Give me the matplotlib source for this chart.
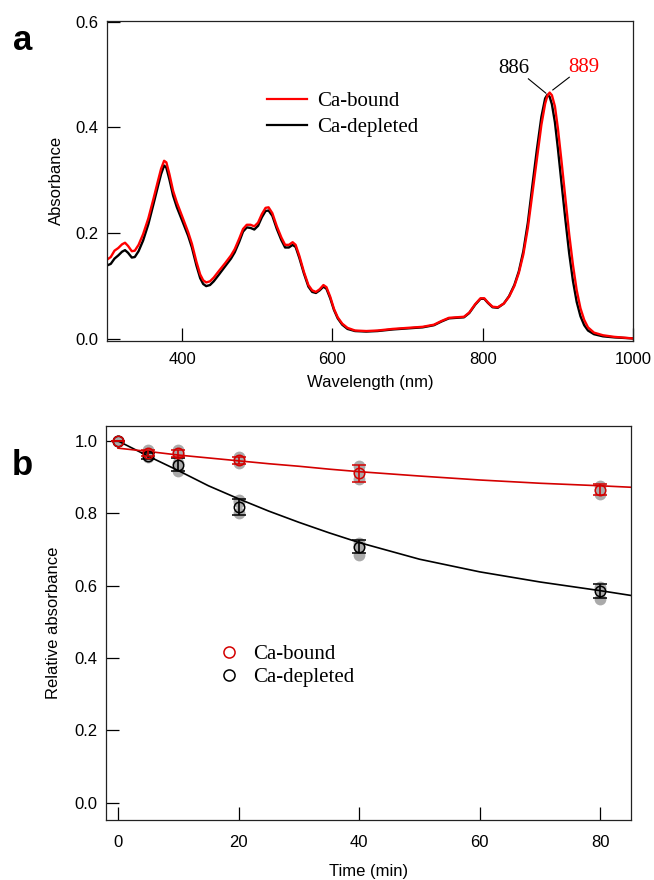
import matplotlib
matplotlib.use("Agg")
import matplotlib.pyplot as plt
from matplotlib.lines import Line2D

# ---- panel a: absorption spectra ----
wavelength = [300, 305, 310, 315, 320, 324, 328, 333, 337, 342, 348, 355, 362, 368, 372,
              376, 379, 383, 388, 393, 400, 408, 413, 419, 424, 428, 432, 437, 442, 448,
              457, 465, 470, 476, 481, 486, 491, 496, 501, 506, 511, 515, 520, 526, 532,
              537, 542, 547, 551, 556, 562, 568, 573, 578, 583, 588, 592, 597, 602, 607,
              613, 620, 630, 645, 660, 680, 700, 720, 735, 745, 755, 765, 775, 782, 790,
              797, 802, 807, 813, 820, 828, 835, 842, 848, 854, 860, 866, 872, 878, 883,
              886, 889, 892, 896, 900, 905, 910, 915, 920, 925, 930, 935, 940, 948, 960,
              975, 1000]
abs_bound = [0.150, 0.155, 0.167, 0.172, 0.179, 0.182, 0.176, 0.166, 0.167, 0.178, 0.198, 0.228,
             0.266, 0.300, 0.322, 0.337, 0.334, 0.312, 0.280, 0.258, 0.232, 0.202, 0.180, 0.146,
             0.122, 0.111, 0.107, 0.109, 0.116, 0.127, 0.143, 0.158, 0.170, 0.190, 0.208, 0.216,
             0.216, 0.213, 0.220, 0.236, 0.248, 0.249, 0.238, 0.213, 0.192, 0.178, 0.178, 0.183,
             0.178, 0.157, 0.127, 0.102, 0.092, 0.089, 0.094, 0.102, 0.098, 0.080, 0.057, 0.041,
             0.029, 0.021, 0.016, 0.015, 0.016, 0.019, 0.021, 0.023, 0.027, 0.034, 0.040, 0.041,
             0.042, 0.050, 0.066, 0.077, 0.077, 0.069, 0.061, 0.060, 0.067, 0.080, 0.100, 0.125,
             0.160, 0.210, 0.275, 0.340, 0.405, 0.445, 0.460, 0.466, 0.461, 0.440, 0.398, 0.333,
             0.265, 0.198, 0.140, 0.092, 0.058, 0.036, 0.022, 0.012, 0.007, 0.004, 0.001]
abs_depleted = [0.139, 0.142, 0.152, 0.158, 0.165, 0.168, 0.163, 0.154, 0.155, 0.166, 0.186, 0.217,
                0.256, 0.290, 0.312, 0.328, 0.324, 0.302, 0.271, 0.249, 0.224, 0.195, 0.173, 0.139,
                0.115, 0.104, 0.100, 0.102, 0.109, 0.120, 0.137, 0.152, 0.164, 0.184, 0.203, 0.211,
                0.210, 0.207, 0.214, 0.230, 0.242, 0.243, 0.233, 0.208, 0.187, 0.173, 0.173, 0.178,
                0.174, 0.153, 0.124, 0.099, 0.089, 0.087, 0.092, 0.099, 0.095, 0.077, 0.055, 0.039,
                0.027, 0.019, 0.015, 0.014, 0.015, 0.018, 0.020, 0.022, 0.026, 0.033, 0.039, 0.040,
                0.041, 0.049, 0.065, 0.076, 0.076, 0.068, 0.060, 0.059, 0.067, 0.081, 0.102, 0.128,
                0.166, 0.220, 0.290, 0.358, 0.420, 0.455, 0.462, 0.458, 0.444, 0.410, 0.360, 0.292,
                0.225, 0.162, 0.110, 0.070, 0.043, 0.026, 0.016, 0.009, 0.005, 0.003, 0.001]

# ---- panel b: stability over time ----
time_min = [0, 5, 10, 20, 40, 80]
bound_mean = [1.0, 0.966, 0.966, 0.946, 0.910, 0.865]
bound_err = [0.0, 0.008, 0.010, 0.010, 0.023, 0.015]
depleted_mean = [1.0, 0.958, 0.934, 0.818, 0.708, 0.585]
depleted_err = [0.0, 0.008, 0.018, 0.022, 0.018, 0.020]
bound_reps = [[1.0, 1.0, 1.0], [0.975, 0.970, 0.965], [0.975, 0.970, 0.960],
              [0.955, 0.950, 0.940], [0.930, 0.915, 0.895], [0.876, 0.865, 0.852]]
depleted_reps = [[1.0, 1.0, 1.0], [0.968, 0.965, 0.955], [0.965, 0.940, 0.917],
                 [0.838, 0.830, 0.800], [0.718, 0.710, 0.686], [0.595, 0.590, 0.563]]
fit_t = [0, 5, 10, 15, 20, 25, 30, 35, 40, 50, 60, 70, 80, 85]
bound_fit = [0.980, 0.971, 0.961, 0.953, 0.945, 0.937, 0.930, 0.922, 0.915, 0.903, 0.892,
             0.883, 0.876, 0.872]
depleted_fit = [1.0, 0.958, 0.918, 0.876, 0.840, 0.806, 0.775, 0.746, 0.719, 0.673, 0.638,
                0.610, 0.586, 0.573]

sans = "Liberation Sans"
serif = "Liberation Serif"
plt.rcParams["font.family"] = sans
plt.rcParams["font.size"] = 12

fig = plt.figure(figsize=(6.54, 8.8), dpi=100)
ax1 = fig.add_axes([0.1636, 0.613, 0.8044, 0.3635])
ax2 = fig.add_axes([0.162, 0.0682, 0.803, 0.448])

# panel a
ax1.plot(wavelength, abs_depleted, color="black", lw=1.7, label="Ca-depleted")
ax1.plot(wavelength, abs_bound, color="#ff0000", lw=1.7, label="Ca-bound")
ax1.set_xlim(300, 1000)
ax1.set_ylim(-0.003, 0.602)
ax1.set_xticks([400, 600, 800, 1000])
ax1.set_yticks([0.0, 0.2, 0.4, 0.6])
ax1.yaxis.set_major_formatter(matplotlib.ticker.FormatStrFormatter("%.1f"))
ax1.set_xlabel("Wavelength (nm)", labelpad=6)
ax1.set_ylabel("Absorbance", labelpad=8)

ax1.plot([860.7, 883.9], [0.492, 0.465], color="black", lw=0.8)
ax1.plot([915.1, 893.2], [0.495, 0.471], color="black", lw=0.8)
ax1.text(841.7, 0.512, "886", family=serif, fontsize=15, ha="center", va="center")
ax1.text(934.9, 0.513, "889", family=serif, fontsize=15, ha="center", va="center",
         color="#ff0000")

h1 = [Line2D([], [], color="#ff0000", lw=1.6), Line2D([], [], color="black", lw=1.6)]
ax1.legend(h1, ["Ca-bound", "Ca-depleted"], loc="center left", bbox_to_anchor=(0.285, 0.707),
           frameon=False, prop={"family": serif, "size": 15}, borderpad=0,
           handlelength=1.92, handletextpad=0.48, labelspacing=0.28)

# panel b
for t, reps in zip(time_min, bound_reps):
    ax2.plot([t] * len(reps), reps, "o", color="#aaaaaa", ms=8.5, mec="none", zorder=1)
for t, reps in zip(time_min, depleted_reps):
    ax2.plot([t] * len(reps), reps, "o", color="#aaaaaa", ms=8.5, mec="none", zorder=1)

red_b = "#d40000"
ax2.plot(fit_t, depleted_fit, color="black", lw=1.2, zorder=2)
ax2.plot(fit_t, bound_fit, color=red_b, lw=1.2, zorder=2)
ax2.errorbar(time_min, depleted_mean, yerr=depleted_err, fmt="o", ms=7.5, mfc="none",
             mec="black", mew=1.1, ecolor="black", elinewidth=1.2, capsize=4.7,
             capthick=1.2, zorder=3)
ax2.errorbar(time_min, bound_mean, yerr=bound_err, fmt="o", ms=7.5, mfc="none",
             mec=red_b, mew=1.1, ecolor=red_b, elinewidth=1.2, capsize=4.7,
             capthick=1.2, zorder=4)

ax2.set_xlim(-2, 85.1)
ax2.set_ylim(-0.048, 1.042)
ax2.set_xticks([0, 20, 40, 60, 80])
ax2.set_yticks([0.0, 0.2, 0.4, 0.6, 0.8, 1.0])
ax2.yaxis.set_major_formatter(matplotlib.ticker.FormatStrFormatter("%.1f"))
ax2.set_xlabel("Time (min)", labelpad=10)
ax2.set_ylabel("Relative absorbance", labelpad=10)

h2 = [Line2D([], [], ls="none", marker="o", ms=8, mfc="none", mec=red_b, mew=1.1),
      Line2D([], [], ls="none", marker="o", ms=8, mfc="none", mec="black", mew=1.1)]
ax2.legend(h2, ["Ca-bound", "Ca-depleted"], loc="center left", bbox_to_anchor=(0.195, 0.391),
           frameon=False, prop={"family": serif, "size": 15}, borderpad=0,
           handlelength=1.0, handletextpad=0.65, labelspacing=0.18)

for ax in (ax1, ax2):
    for s in ax.spines.values():
        s.set_linewidth(0.9)
        s.set_color("#222222")
    ax.tick_params(direction="in", length=9.5, width=0.9, labelsize=12, pad=6)
ax1.tick_params(axis="x", pad=8)
ax2.tick_params(axis="x", pad=11)

fig.text(0.02, 0.943, "a", fontsize=25, fontweight="bold", va="baseline")
fig.text(0.018, 0.460, "b", fontsize=25, fontweight="bold", va="baseline")

fig.savefig("out.png", dpi=100)
